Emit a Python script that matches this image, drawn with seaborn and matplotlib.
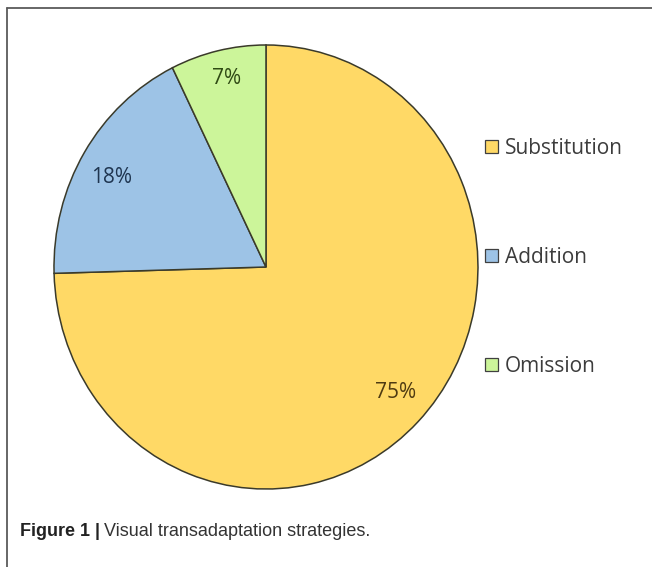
import numpy as np
import matplotlib
matplotlib.use("Agg")
import matplotlib.pyplot as plt
from matplotlib.patches import Patch
from matplotlib.lines import Line2D
import seaborn as sns

# Counts of each transadaptation strategy
strategies = ["Substitution", "Addition", "Omission"]
counts = [41, 10, 4]
colors = ["#FFD966", "#9DC3E6", "#CCF59A"]
label_colors = ["#4F3B12", "#1F3550", "#2F4A14"]
label_radius = [0.83, 0.83, 0.867]
label_turn = [1.4, 2.2, -0.8]  # degrees off the wedge bisector

sns.set_theme(style="white")
plt.rcParams["font.family"] = ["Open Sans", "DejaVu Sans"]

fig = plt.figure(figsize=(6.52, 5.67), dpi=100)
fig.patch.set_facecolor("white")

ax = fig.add_axes([0.0503, 0.0984, 0.7153, 0.8614])
wedges, texts, autotexts = ax.pie(
    counts,
    colors=colors,
    startangle=90,
    counterclock=False,
    autopct=lambda p: f"{p:.0f}%",
    pctdistance=0.84,
    wedgeprops=dict(edgecolor="#3a3a2a", linewidth=1.1),
    textprops=dict(fontsize=15),
)
# Place each percentage label near its wedge's bisector
for w, t, c, r, d in zip(wedges, autotexts, label_colors, label_radius, label_turn):
    mid = np.deg2rad((w.theta1 + w.theta2) / 2 + d)
    t.set_position((r * np.cos(mid), r * np.sin(mid)))
    t.set_color(c)
ax.set_aspect("auto")
ax.set_xlim(-1.1, 1.1)
ax.set_ylim(-1.1, 1.1)
ax.axis("off")

handles = [
    Patch(facecolor=c, edgecolor="#404040", linewidth=0.9, label=s)
    for c, s in zip(colors, strategies)
]
fig.legend(
    handles=handles,
    loc="upper left",
    bbox_to_anchor=(485 / 652, 1 - 138 / 567),
    frameon=False,
    borderpad=0,
    borderaxespad=0,
    fontsize=15,
    handlelength=0.62,
    handleheight=0.62,
    handletextpad=0.33,
    labelspacing=4.22,
    labelcolor="#3c3c3c",
)

# Panel border (top and left edges)
W, H = 652, 567
fig.add_artist(Line2D([7 / W, 1.0], [1 - 8 / H, 1 - 8 / H],
                      transform=fig.transFigure, color="#5a5a5a", linewidth=1.3))
fig.add_artist(Line2D([7 / W, 7 / W], [0.0, 1 - 8 / H],
                      transform=fig.transFigure, color="#5a5a5a", linewidth=1.3))

# Caption
cap_y = 1 - 531 / H
bold = fig.text(20 / W, cap_y, "Figure 1 |", fontsize=13, fontweight="bold",
                family=["Liberation Sans", "DejaVu Sans"], color="#222222",
                va="center", ha="left")
fig.canvas.draw()
bb = bold.get_window_extent()
fig.text((bb.x1 + 4) / W, cap_y, "Visual transadaptation strategies.",
         fontsize=13, family=["Liberation Sans", "DejaVu Sans"],
         color="#333333", va="center", ha="left")

fig.savefig("out.png", dpi=100, facecolor="white")
